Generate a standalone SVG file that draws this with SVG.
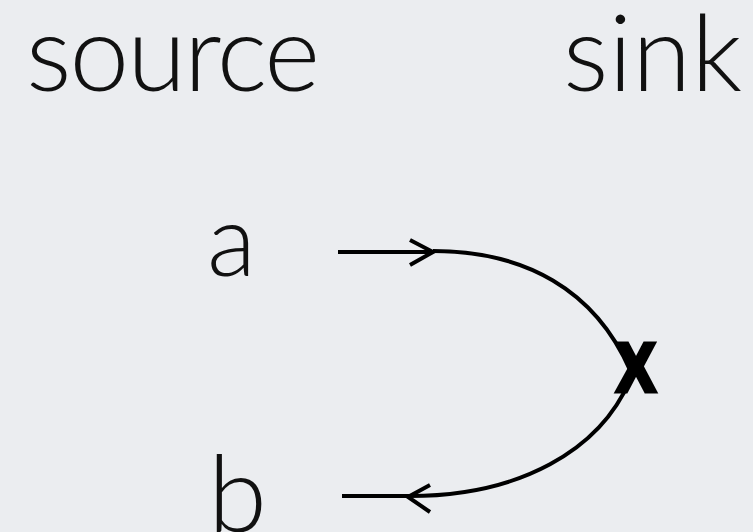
<svg xmlns="http://www.w3.org/2000/svg" width="753" height="532" viewBox="0 0 753 532">
  <style>
    .lbl { font-family: Lato, "Open Sans", sans-serif; font-weight: 300; fill: #111; }
    .wire { fill: none; stroke: #000; stroke-width: 4; stroke-linecap: butt; }
    .head { fill: none; stroke: #000; stroke-width: 4; stroke-linejoin: miter; }
    .cross { font-family: "Liberation Sans", Arial, sans-serif; font-weight: bold; fill: #000; stroke: #000; stroke-width: 5; stroke-linejoin: miter; }
  </style>
  <rect width="753" height="532" fill="#ebedf0"/>
  <g id="title-source"><text class="lbl" x="26" y="91" font-size="107" letter-spacing="-2">source</text></g>
  <g id="title-sink"><text class="lbl" x="563" y="91" font-size="107">sink</text></g>
  <g id="node-a"><text class="lbl" x="207" y="276" font-size="101">a</text></g>
  <g id="node-b"><text class="lbl" x="208" y="532" font-size="107">b</text></g>
  <g id="connectors">
    <path class="wire" d="M338,252 L433,252"/>
    <path class="head" d="M410,240 L433,252 L410,265"/>
    <path class="wire" d="M433,251 C525,251 595,290 630,370"/>
    <path class="wire" d="M630,380 C600,450 520,496 410,496"/>
    <path class="wire" d="M342,496 L410,496"/>
    <path class="head" d="M430,485 L408,497 L430,512"/>
  </g>
  <g id="node-x"><text class="cross" x="617" y="391" font-size="68" textLength="38" lengthAdjust="spacingAndGlyphs">X</text></g>
</svg>
